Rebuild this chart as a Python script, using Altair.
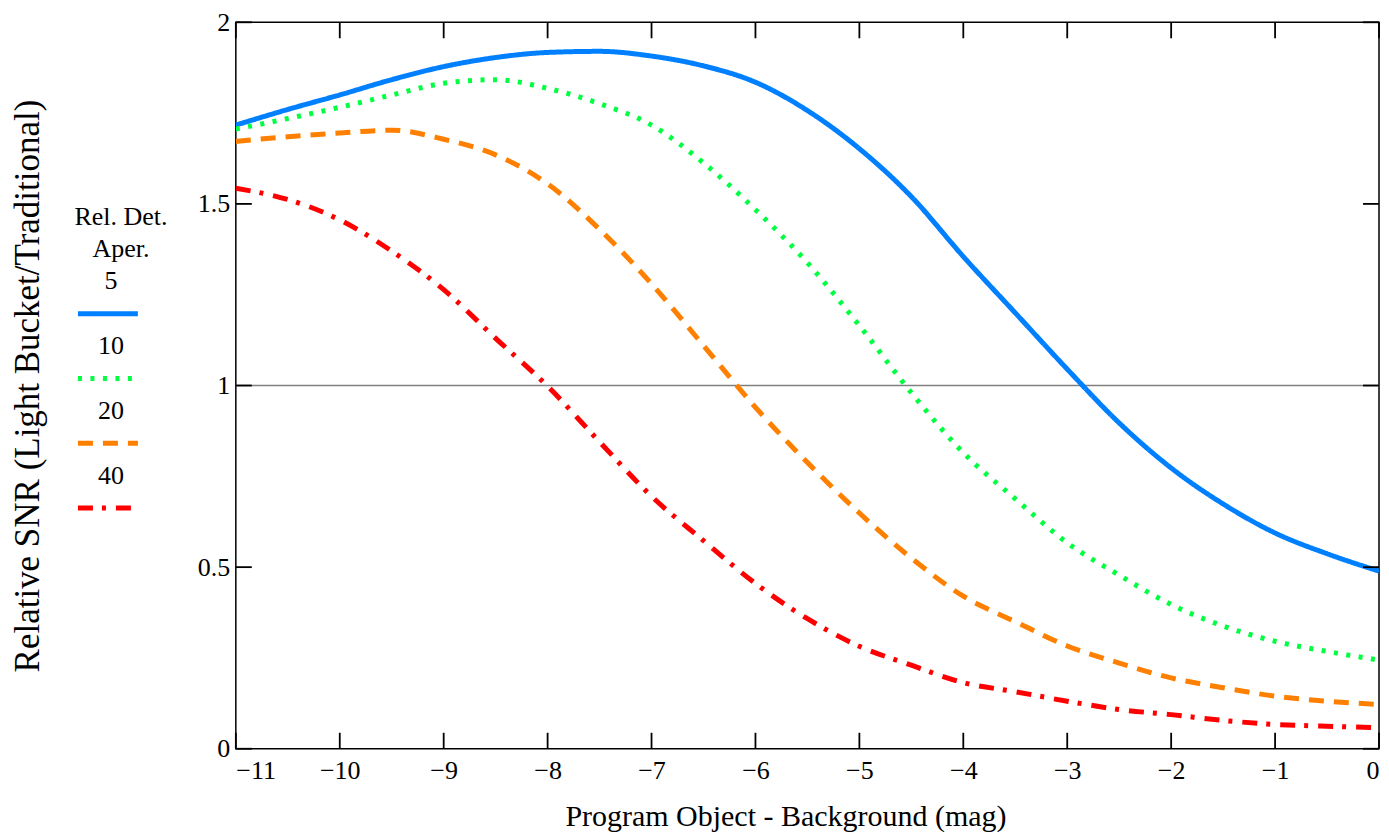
import altair as alt
import pandas as pd

# ---------------- data ----------------
x_vals = [-11, -10.5, -10, -9.5, -9, -8.5, -8, -7.5, -7, -6.5, -6, -5.5,
          -5, -4.5, -4, -3.5, -3, -2.5, -2, -1.5, -1, -0.5, 0]

snr_5 = [1.717, 1.760, 1.800, 1.842, 1.878, 1.903, 1.917, 1.920, 1.907, 1.880,
         1.835, 1.757, 1.652, 1.520, 1.355, 1.200, 1.045, 0.897, 0.773, 0.674,
         0.594, 0.537, 0.489]
snr_10 = [1.706, 1.735, 1.766, 1.800, 1.832, 1.842, 1.818, 1.776, 1.717, 1.613,
          1.484, 1.338, 1.165, 0.980, 0.815, 0.688, 0.567, 0.478, 0.397, 0.338,
          0.296, 0.268, 0.244]
snr_20 = [1.672, 1.685, 1.695, 1.703, 1.678, 1.635, 1.555, 1.430, 1.280, 1.110,
          0.940, 0.788, 0.649, 0.525, 0.420, 0.350, 0.283, 0.236, 0.195, 0.168,
          0.145, 0.131, 0.122]
snr_40 = [1.543, 1.512, 1.456, 1.370, 1.264, 1.130, 0.998, 0.845, 0.695, 0.573,
          0.455, 0.358, 0.282, 0.230, 0.182, 0.157, 0.131, 0.108, 0.094, 0.078,
          0.067, 0.062, 0.058]

series_names = ["5", "10", "20", "40"]
series_values = [snr_5, snr_10, snr_20, snr_40]
series_colors = ["#0080FF", "#00FF40", "#FF8000", "#FF0000"]
series_dashes = [[1, 0], [4, 8.5], [15, 10], [15, 9, 4, 10]]

x_ticks = list(range(-11, 1))
y_ticks = [0, 0.5, 1, 1.5, 2]
ref_level = [1]

legend_title = ["Rel. Det.", "Aper."]

x_title = "Program Object - Background (mag)"
y_title = "Relative SNR (Light Bucket/Traditional)"

FONT = "Liberation Serif"
W, H = 1144, 727
TICK = 16

# ---------------- tables ----------------
rows = []
for name, vals in zip(series_names, series_values):
    for xv, yv in zip(x_vals, vals):
        rows.append({"x": xv, "y": yv, "series": name})
df = pd.DataFrame(rows)

color_scale = alt.Scale(domain=series_names, range=series_colors)
dash_scale = alt.Scale(domain=series_names, range=series_dashes)
x_scale = alt.Scale(domain=[-11, 0], nice=False, zero=False)
y_scale = alt.Scale(domain=[0, 2], nice=False, zero=False)

x_axis = alt.Axis(values=x_ticks, format="~g", ticks=False, domain=False, grid=False,
                  labelFontSize=26, labelPadding=9, labelFont=FONT, labelColor="black",
                  title=x_title, titleFontSize=30, titleFont=FONT, titleFontWeight="normal",
                  titleColor="black", titlePadding=18, titleX=550)
y_axis = alt.Axis(values=y_ticks, format="~g", ticks=False, domain=False, grid=False,
                  labelFontSize=26, labelPadding=6, labelFont=FONT, labelColor="black",
                  title=None)

ref = alt.Chart(pd.DataFrame({"y": ref_level})).mark_rule(
    color="#808080", strokeWidth=1.5
).encode(y=alt.Y("y:Q", scale=y_scale, axis=y_axis))

lines = alt.Chart(df).mark_line(strokeWidth=5, strokeCap="butt", clip=True,
                                interpolate="monotone").encode(
    x=alt.X("x:Q", scale=x_scale, axis=x_axis),
    y=alt.Y("y:Q", scale=y_scale, axis=y_axis),
    color=alt.Color("series:N", scale=color_scale, legend=None),
    strokeDash=alt.StrokeDash("series:N", scale=dash_scale, legend=None),
    detail="series:N",
)

xt = pd.DataFrame({"v": x_ticks})
yt = pd.DataFrame({"v": y_ticks})
tick_style = dict(color="black", strokeWidth=1.8)
bottom_ticks = alt.Chart(xt).mark_rule(**tick_style).encode(
    x=alt.X("v:Q", scale=x_scale, axis=x_axis), y=alt.value(H), y2=alt.value(H - TICK))
top_ticks = alt.Chart(xt).mark_rule(**tick_style).encode(
    x=alt.X("v:Q", scale=x_scale, axis=x_axis), y=alt.value(0), y2=alt.value(TICK))
left_ticks = alt.Chart(yt).mark_rule(**tick_style).encode(
    y=alt.Y("v:Q", scale=y_scale, axis=y_axis), x=alt.value(0), x2=alt.value(TICK))
right_ticks = alt.Chart(yt).mark_rule(**tick_style).encode(
    y=alt.Y("v:Q", scale=y_scale, axis=y_axis), x=alt.value(W), x2=alt.value(W - TICK))

main = alt.layer(ref, lines, bottom_ticks, top_ticks, left_ticks, right_ticks).properties(
    width=W, height=H
)

# ---------------- custom legend panel ----------------
text_rows = []
line_rows = []
r = 0
for t in legend_title:
    text_rows.append({"text": t, "row": r, "xc": 0.5, "shift": 1})
    r += 1
for name in series_names:
    text_rows.append({"text": name, "row": r, "xc": 0.5, "shift": 0})
    r += 1
    line_rows.append({"series": name, "row": r, "x0": 0, "x1": 1})
    r += 1
tdf = pd.DataFrame(text_rows)
ldf = pd.DataFrame(line_rows)

lx = alt.Scale(domain=[0, 1], nice=False, zero=False)
ly = alt.Scale(domain=[-6.0, 16.44], reverse=True, nice=False, zero=False)
leg_axis = alt.Axis(title=y_title, labels=False, ticks=False, domain=False, grid=False,
                    titleFontSize=35, titleFont=FONT, titleFontWeight="normal",
                    titleColor="black", titlePadding=32)

leg_title_text = alt.Chart(tdf[tdf["shift"] == 1]).mark_text(
    font=FONT, fontSize=26, align="center", baseline="middle", color="black", dx=13
).encode(x=alt.X("xc:Q", scale=lx, axis=None),
         y=alt.Y("row:Q", scale=ly, axis=leg_axis), text="text:N")
leg_text = alt.Chart(tdf[tdf["shift"] == 0]).mark_text(
    font=FONT, fontSize=26, align="center", baseline="middle", color="black", dx=3
).encode(x=alt.X("xc:Q", scale=lx, axis=None),
         y=alt.Y("row:Q", scale=ly, axis=leg_axis), text="text:N")
leg_lines = alt.Chart(ldf).mark_rule(strokeWidth=5, strokeCap="butt").encode(
    x=alt.X("x0:Q", scale=lx, axis=None), x2="x1:Q",
    y=alt.Y("row:Q", scale=ly, axis=leg_axis),
    color=alt.Color("series:N", scale=color_scale, legend=None),
    strokeDash=alt.StrokeDash("series:N", scale=dash_scale, legend=None),
)
legend = alt.layer(leg_title_text, leg_text, leg_lines).properties(
    width=60, height=H, view=alt.ViewBackground(stroke="transparent")
)

chart = alt.hconcat(legend, main, spacing=98, bounds="flush").properties(
    padding={"left": 2, "top": 0, "right": 0, "bottom": 0}
).configure(font=FONT).configure_view(stroke="black", strokeWidth=1.5)

chart.save("out.html", embed_options={"renderer": "svg", "actions": False})
